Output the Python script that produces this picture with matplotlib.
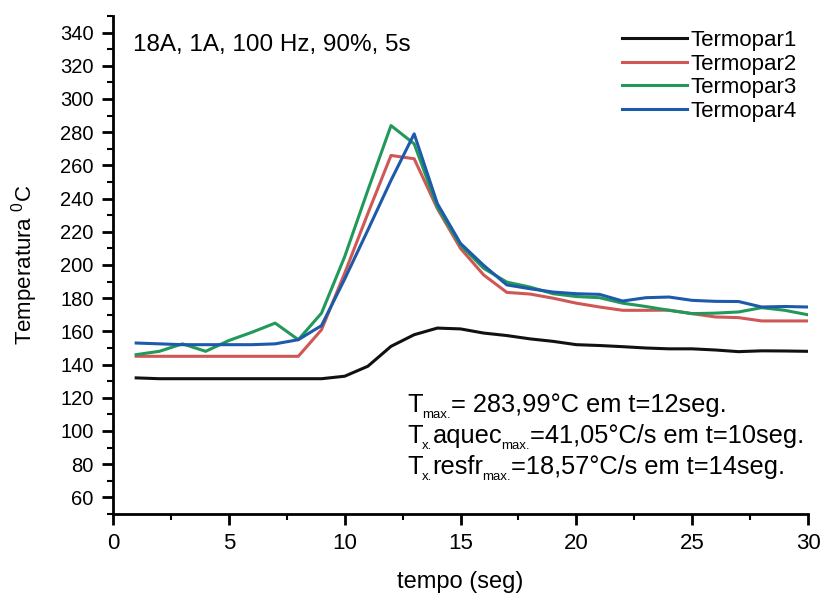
import numpy as np
import matplotlib.pyplot as plt
from matplotlib.ticker import MultipleLocator
from matplotlib.transforms import offset_copy

plt.rcParams['font.family'] = ['Liberation Sans', 'DejaVu Sans']
plt.rcParams['mathtext.fontset'] = 'custom'
plt.rcParams['mathtext.rm'] = 'Liberation Sans'
plt.rcParams['mathtext.default'] = 'regular'

# tempo (s)
t = list(range(1, 31))

# temperaturas (°C)
termopar1 = [132, 131.5, 131.5, 131.5, 131.5, 131.5, 131.5, 131.5, 131.5, 133,
             139, 151, 158, 162, 161.5, 159, 157.5, 155.5, 154, 152,
             151.5, 150.8, 150, 149.5, 149.5, 148.8, 147.8, 148.3, 148.2, 148]
termopar2 = [145, 145, 145, 145, 145, 145, 145, 145, 161, 195,
             231, 266, 264, 234, 210, 194, 183.5, 182.5, 180, 177,
             174.7, 172.7, 172.7, 172.8, 170.7, 168.7, 168.3, 166.3, 166.3, 166.3]
termopar3 = [146, 148, 152.5, 148, 154.5, 159.5, 165, 155, 171, 205,
             245, 284, 273, 235, 212, 198, 189.7, 186.7, 182.7, 181,
             180.3, 177, 175, 172.7, 170.7, 171, 171.7, 174.3, 172.7, 170]
termopar4 = [153, 152.5, 152, 152, 152, 152, 152.5, 155, 163.5, 191.5,
             221, 251, 279, 237, 213, 199.8, 188, 185.7, 183.7, 182.7,
             182.3, 178.3, 180.3, 180.7, 178.7, 178.1, 178, 174.7, 175, 174.7]

series = [
    ('Termopar1', termopar1, '#111111'),
    ('Termopar2', termopar2, '#cf5856'),
    ('Termopar3', termopar3, '#22995a'),
    ('Termopar4', termopar4, '#1d5aaa'),
]

fig = plt.figure(figsize=(8.24, 5.96), dpi=100)
ax = fig.add_axes([113 / 824, 82 / 596, 695 / 824, 498 / 596])

for nome, valores, cor in series:
    ax.plot(t, valores, color=cor, lw=2.2, label=nome)

ax.set_xlim(0, 30)
ax.set_ylim(50, 350)
ax.xaxis.set_major_locator(MultipleLocator(5))
ax.xaxis.set_minor_locator(MultipleLocator(2.5))
ax.yaxis.set_minor_locator(MultipleLocator(10))
ax.set_yticks(np.arange(60, 341, 20))

ax.spines['top'].set_visible(False)
ax.spines['right'].set_visible(False)
ax.spines['left'].set_linewidth(2)
ax.spines['bottom'].set_linewidth(2)
ax.tick_params(which='major', direction='out', length=8, width=2)
ax.tick_params(which='minor', direction='out', length=4, width=1.5)
ax.tick_params(axis='x', which='major', labelsize=16, pad=6)
ax.tick_params(axis='y', which='major', labelsize=14.5, pad=6)

ax.set_xlabel('tempo (seg)', fontsize=17, labelpad=12)
ax.set_ylabel('Temperatura $^0$C', fontsize=16, labelpad=14)

ax.text(0.029, 0.93, '18A, 1A, 100 Hz, 90%, 5s', transform=ax.transAxes,
        fontsize=17.5, va='baseline', ha='left')

ax.legend(loc='upper left', bbox_to_anchor=(0.733, 0.972), frameon=False,
          fontsize=16, handlelength=2.9, handletextpad=0.15, labelspacing=0.12,
          borderpad=0, borderaxespad=0)


def linha(x, y, partes):
    # escreve texto com subscritos pequenos, pedaco por pedaco
    renderer = fig.canvas.get_renderer()
    dx = 0
    for texto, sub in partes:
        tr = offset_copy(ax.transAxes, fig=fig, x=dx, y=-6 if sub else 0, units='dots')
        txt = ax.text(x, y, texto, transform=tr, fontsize=9.5 if sub else 18.3,
                      va='baseline', ha='left')
        dx += txt.get_window_extent(renderer).width + (0 if sub else -1)


linha(0.424, 0.205, [('T', False), ('max.', True), ('= 283,99°C em t=12seg.', False)])
linha(0.424, 0.143, [('T', False), ('x.', True), ('aquec', False), ('max.', True),
                     ('=41,05°C/s em t=10seg.', False)])
linha(0.424, 0.081, [('T', False), ('x.', True), ('resfr', False), ('max.', True),
                     ('=18,57°C/s em t=14seg.', False)])

fig.savefig('out.png', dpi=100)
